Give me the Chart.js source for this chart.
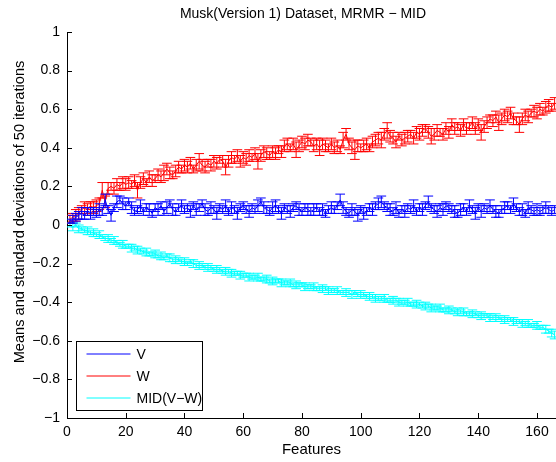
<!DOCTYPE html>
<html>
<head>
<meta charset="utf-8">
<script src="https://cdn.jsdelivr.net/npm/chart.js@4.4.0/dist/chart.umd.min.js"></script>
<style>
  body { margin: 0; background: #fff; }
  canvas { display: block; }
</style>
</head>
<body>
<canvas id="errChart" width="556" height="462"></canvas>
<script>
// tick labels
const xTicks = [0, 20, 40, 60, 80, 100, 120, 140, 160];
const yTicks = [-1, -0.8, -0.6, -0.4, -0.2, 0, 0.2, 0.4, 0.6, 0.8, 1];

// features 1..166
const features = [];
for (let i = 1; i <= 166; i++) features.push(i);

// V means
const vMean = [
  0.02,0.03,0.04,0.05,0.06,0.05,0.07,0.06,0.07,0.06,
  0.08,0.07,0.13,0.08,0.05,0.09,0.12,0.13,0.11,0.10,
  0.12,0.09,0.07,0.08,0.10,0.07,0.09,0.08,0.06,0.09,
  0.08,0.10,0.07,0.09,0.11,0.08,0.07,0.09,0.10,0.08,
  0.09,0.07,0.10,0.08,0.09,0.11,0.08,0.07,0.09,0.08,
  0.06,0.09,0.08,0.10,0.07,0.09,0.08,0.06,0.09,0.10,
  0.08,0.07,0.09,0.08,0.10,0.12,0.09,0.08,0.07,0.09,
  0.10,0.08,0.06,0.09,0.08,0.07,0.09,0.10,0.08,0.07,
  0.09,0.08,0.07,0.08,0.09,0.07,0.08,0.06,0.08,0.09,
  0.08,0.10,0.13,0.09,0.07,0.06,0.08,0.07,0.05,0.08,
  0.06,0.07,0.09,0.08,0.10,0.11,0.12,0.10,0.09,0.08,
  0.07,0.09,0.06,0.08,0.07,0.09,0.08,0.10,0.07,0.09,
  0.08,0.10,0.12,0.09,0.08,0.07,0.09,0.08,0.10,0.09,
  0.08,0.07,0.06,0.08,0.09,0.07,0.10,0.08,0.06,0.09,
  0.07,0.09,0.08,0.10,0.08,0.07,0.06,0.08,0.09,0.10,
  0.08,0.11,0.09,0.07,0.08,0.06,0.09,0.08,0.07,0.08,
  0.07,0.08,0.09,0.08,0.07,0.08
];
const vErr = [
  0.01,0.02,0.02,0.02,0.03,0.02,0.02,0.03,0.02,0.02,
  0.03,0.02,0.03,0.02,0.03,0.02,0.03,0.02,0.03,0.02,
  0.02,0.03,0.02,0.02,0.03,0.02,0.02,0.03,0.02,0.02,
  0.03,0.02,0.02,0.03,0.02,0.03,0.02,0.02,0.03,0.02,
  0.02,0.03,0.02,0.03,0.02,0.02,0.03,0.02,0.03,0.02,
  0.03,0.02,0.02,0.03,0.02,0.03,0.02,0.03,0.02,0.02,
  0.02,0.03,0.02,0.02,0.03,0.02,0.03,0.02,0.02,0.03,
  0.03,0.02,0.03,0.02,0.02,0.03,0.02,0.02,0.03,0.02,
  0.02,0.03,0.02,0.03,0.02,0.02,0.03,0.02,0.02,0.03,
  0.02,0.02,0.03,0.03,0.02,0.02,0.03,0.02,0.03,0.02,
  0.03,0.02,0.02,0.03,0.02,0.03,0.03,0.02,0.02,0.03,
  0.02,0.03,0.02,0.02,0.03,0.02,0.02,0.03,0.02,0.02,
  0.03,0.02,0.03,0.02,0.02,0.03,0.02,0.03,0.02,0.02,
  0.02,0.03,0.02,0.03,0.02,0.02,0.03,0.02,0.03,0.02,
  0.03,0.02,0.02,0.03,0.02,0.03,0.02,0.02,0.03,0.02,
  0.02,0.03,0.02,0.02,0.03,0.02,0.03,0.02,0.02,0.03,
  0.02,0.02,0.03,0.02,0.02,0.02
];

// W means
const wMean = [
  0.03,0.04,0.05,0.06,0.08,0.09,0.08,0.10,0.09,0.10,
  0.11,0.18,0.12,0.19,0.20,0.19,0.21,0.20,0.22,0.21,
  0.22,0.21,0.23,0.18,0.22,0.24,0.22,0.25,0.23,0.24,
  0.26,0.25,0.27,0.29,0.27,0.26,0.28,0.30,0.29,0.31,
  0.30,0.32,0.29,0.31,0.33,0.31,0.30,0.32,0.31,0.33,
  0.32,0.34,0.33,0.30,0.33,0.35,0.34,0.36,0.33,0.35,
  0.34,0.36,0.35,0.37,0.33,0.36,0.38,0.37,0.36,0.38,
  0.37,0.39,0.38,0.41,0.42,0.40,0.42,0.39,0.41,0.43,
  0.42,0.44,0.43,0.41,0.42,0.40,0.42,0.41,0.40,0.42,
  0.40,0.41,0.39,0.44,0.47,0.42,0.40,0.39,0.41,0.40,
  0.41,0.42,0.40,0.43,0.44,0.45,0.44,0.47,0.49,0.46,
  0.45,0.43,0.46,0.44,0.45,0.46,0.47,0.45,0.48,0.47,
  0.49,0.50,0.48,0.46,0.47,0.49,0.48,0.47,0.50,0.48,
  0.52,0.50,0.51,0.49,0.52,0.50,0.51,0.53,0.50,0.52,
  0.48,0.51,0.53,0.55,0.54,0.56,0.53,0.55,0.57,0.56,
  0.58,0.55,0.54,0.52,0.55,0.57,0.56,0.58,0.59,0.58,
  0.60,0.59,0.61,0.62,0.61,0.63
];
const wErr = [
  0.02,0.02,0.03,0.03,0.02,0.03,0.03,0.02,0.03,0.03,
  0.03,0.04,0.03,0.03,0.02,0.03,0.03,0.02,0.03,0.03,
  0.03,0.02,0.03,0.04,0.03,0.03,0.02,0.03,0.03,0.02,
  0.03,0.03,0.04,0.03,0.03,0.02,0.03,0.03,0.02,0.03,
  0.03,0.03,0.02,0.03,0.04,0.03,0.03,0.02,0.03,0.03,
  0.03,0.02,0.03,0.04,0.03,0.03,0.02,0.03,0.03,0.03,
  0.03,0.03,0.02,0.03,0.04,0.03,0.03,0.03,0.02,0.03,
  0.03,0.02,0.03,0.03,0.03,0.02,0.03,0.04,0.03,0.03,
  0.03,0.03,0.02,0.03,0.03,0.04,0.03,0.03,0.02,0.03,
  0.03,0.03,0.02,0.04,0.03,0.03,0.03,0.05,0.03,0.02,
  0.03,0.03,0.02,0.03,0.03,0.03,0.04,0.03,0.04,0.03,
  0.03,0.03,0.02,0.03,0.03,0.03,0.02,0.03,0.03,0.03,
  0.03,0.02,0.03,0.04,0.03,0.03,0.02,0.03,0.03,0.03,
  0.03,0.03,0.02,0.03,0.03,0.03,0.02,0.03,0.03,0.03,
  0.04,0.03,0.03,0.02,0.03,0.03,0.04,0.03,0.03,0.03,
  0.03,0.03,0.02,0.04,0.03,0.03,0.03,0.02,0.03,0.03,
  0.03,0.02,0.03,0.03,0.02,0.03
];

// MID(V-W) means
const midMean = [
  0.00,-0.01,0.00,-0.02,-0.02,-0.03,-0.03,-0.04,-0.04,-0.05,
  -0.05,-0.06,-0.07,-0.07,-0.08,-0.08,-0.09,-0.10,-0.10,-0.11,
  -0.11,-0.12,-0.12,-0.13,-0.13,-0.14,-0.14,-0.15,-0.15,-0.15,
  -0.16,-0.16,-0.17,-0.16,-0.17,-0.18,-0.18,-0.18,-0.19,-0.19,
  -0.20,-0.19,-0.20,-0.21,-0.21,-0.21,-0.22,-0.22,-0.22,-0.23,
  -0.23,-0.23,-0.24,-0.24,-0.24,-0.25,-0.25,-0.25,-0.26,-0.26,
  -0.26,-0.27,-0.27,-0.27,-0.27,-0.28,-0.28,-0.28,-0.29,-0.29,
  -0.29,-0.29,-0.30,-0.30,-0.30,-0.30,-0.31,-0.31,-0.31,-0.31,
  -0.32,-0.32,-0.32,-0.32,-0.33,-0.33,-0.33,-0.33,-0.34,-0.34,
  -0.34,-0.34,-0.35,-0.35,-0.35,-0.35,-0.36,-0.35,-0.36,-0.36,
  -0.36,-0.37,-0.37,-0.37,-0.38,-0.38,-0.38,-0.38,-0.39,-0.39,
  -0.39,-0.39,-0.40,-0.40,-0.40,-0.40,-0.41,-0.41,-0.41,-0.41,
  -0.42,-0.42,-0.42,-0.43,-0.43,-0.43,-0.43,-0.44,-0.44,-0.44,
  -0.44,-0.45,-0.45,-0.45,-0.45,-0.46,-0.46,-0.46,-0.46,-0.47,
  -0.47,-0.47,-0.47,-0.48,-0.48,-0.48,-0.48,-0.49,-0.49,-0.49,
  -0.49,-0.50,-0.50,-0.50,-0.51,-0.51,-0.51,-0.52,-0.52,-0.52,
  -0.53,-0.53,-0.54,-0.55,-0.56,-0.57
];
const midErr = [
  0.01,0.02,0.01,0.02,0.01,0.01,0.02,0.01,0.02,0.01,
  0.02,0.01,0.01,0.02,0.01,0.02,0.01,0.01,0.02,0.01,
  0.01,0.02,0.01,0.02,0.01,0.01,0.02,0.01,0.01,0.02,
  0.01,0.02,0.01,0.01,0.02,0.01,0.02,0.01,0.01,0.02,
  0.01,0.01,0.02,0.01,0.02,0.01,0.01,0.02,0.01,0.01,
  0.02,0.01,0.01,0.02,0.01,0.02,0.01,0.01,0.02,0.01,
  0.01,0.02,0.01,0.01,0.02,0.01,0.01,0.02,0.01,0.02,
  0.01,0.01,0.02,0.01,0.01,0.02,0.01,0.02,0.01,0.01,
  0.02,0.01,0.01,0.02,0.01,0.01,0.02,0.01,0.02,0.01,
  0.01,0.02,0.01,0.01,0.02,0.01,0.02,0.01,0.01,0.02,
  0.01,0.01,0.02,0.01,0.02,0.01,0.01,0.02,0.01,0.01,
  0.02,0.01,0.02,0.01,0.01,0.02,0.01,0.01,0.02,0.01,
  0.01,0.02,0.01,0.02,0.01,0.01,0.02,0.01,0.01,0.02,
  0.01,0.01,0.02,0.01,0.02,0.01,0.01,0.02,0.01,0.01,
  0.02,0.01,0.01,0.02,0.01,0.02,0.01,0.01,0.02,0.01,
  0.01,0.02,0.01,0.01,0.02,0.01,0.02,0.01,0.01,0.02,
  0.01,0.01,0.02,0.01,0.02,0.02
];

const FONT = '"Liberation Sans", Arial, Helvetica, sans-serif';
Chart.defaults.font.family = FONT;
Chart.defaults.font.size = 14;
Chart.defaults.color = '#000';

function toPts(ys) {
  return ys.map((y, i) => ({ x: features[i], y: y }));
}

// draws the error bars right after each series, like matlab errorbar
const errorBars = {
  id: 'errorBars',
  afterDatasetDraw(chart, args) {
    const ds = chart.data.datasets[args.index];
    const xs = chart.scales.x, ys = chart.scales.y;
    const ctx = chart.ctx;
    const area = chart.chartArea;
    ctx.save();
    ctx.beginPath();
    ctx.rect(area.left, area.top, area.right - area.left, area.bottom - area.top);
    ctx.clip();
    ctx.strokeStyle = ds.borderColor;
    ctx.lineWidth = 1;
    ctx.beginPath();
    ds.data.forEach((p, i) => {
      const e = ds.errors[i];
      const x = xs.getPixelForValue(p.x);
      const half = xs.getPixelForValue(p.x + 1.65) - x;
      const yt = ys.getPixelForValue(p.y + e);
      const yb = ys.getPixelForValue(p.y - e);
      ctx.moveTo(x, yt); ctx.lineTo(x, yb);
      ctx.moveTo(x - half, yt); ctx.lineTo(x + half, yt);
      ctx.moveTo(x - half, yb); ctx.lineTo(x + half, yb);
    });
    ctx.stroke();
    ctx.restore();
  }
};

// title, y label, inward ticks and the boxed legend
const matlabLook = {
  id: 'matlabLook',
  afterDraw(chart) {
    const ctx = chart.ctx;
    const a = chart.chartArea;
    const xs = chart.scales.x, ys = chart.scales.y;
    ctx.save();
    ctx.strokeStyle = '#000';
    ctx.lineWidth = 1;
    ctx.beginPath();
    xTicks.forEach(v => {
      const x = Math.round(xs.getPixelForValue(v)) + 0.5;
      ctx.moveTo(x, a.bottom); ctx.lineTo(x, a.bottom - 5);
    });
    yTicks.forEach(v => {
      const y = Math.round(ys.getPixelForValue(v)) + 0.5;
      ctx.moveTo(a.left, y); ctx.lineTo(a.left + 5, y);
    });
    ctx.stroke();

    ctx.fillStyle = '#000';
    ctx.font = '14px ' + FONT;
    ctx.textAlign = 'center';
    ctx.textBaseline = 'middle';
    ctx.fillText('Musk(Version 1) Dataset, MRMR \u2212 MID', 303, 14);

    ctx.save();
    ctx.translate(20, 212);
    ctx.rotate(-Math.PI / 2);
    ctx.font = '14.6px ' + FONT;
    ctx.fillText('Means and standard deviations of 50 iterations', 0, 0);
    ctx.restore();

    // legend box
    const lx = a.left + 9.5, ly = a.bottom - 76.5, lw = 126, lh = 69;
    ctx.fillStyle = '#fff';
    ctx.fillRect(lx, ly, lw, lh);
    ctx.strokeRect(lx, ly, lw, lh);
    ctx.textAlign = 'left';
    chart.data.datasets.forEach((ds, i) => {
      const y = ly + 12.5 + i * 22;
      ctx.strokeStyle = ds.borderColor;
      ctx.beginPath();
      ctx.moveTo(lx + 10, y); ctx.lineTo(lx + 54, y);
      ctx.stroke();
      ctx.fillStyle = '#000';
      ctx.fillText(ds.label, lx + 60, y + 1);
    });
    ctx.restore();
  }
};

new Chart(document.getElementById('errChart'), {
  type: 'line',
  data: {
    datasets: [
      { label: 'V', data: toPts(vMean), errors: vErr, borderColor: '#0000ff' },
      { label: 'W', data: toPts(wMean), errors: wErr, borderColor: '#ff0000' },
      { label: 'MID(V\u2212W)', data: toPts(midMean), errors: midErr, borderColor: '#00ffff' }
    ]
  },
  options: {
    responsive: false,
    animation: false,
    events: [],
    datasets: { line: { borderWidth: 1, pointRadius: 0, tension: 0, fill: false } },
    layout: { padding: { top: 32, right: 0, bottom: 0, left: 0 } },
    plugins: { legend: { display: false }, tooltip: { enabled: false } },
    scales: {
      x: {
        type: 'linear',
        min: 0,
        max: 166.47,
        grid: { display: false, drawTicks: false },
        border: { display: true, color: '#000', width: 1 },
        ticks: { padding: 6, maxRotation: 0 },
        afterBuildTicks: s => { s.ticks = xTicks.map(v => ({ value: v })); },
        afterFit: s => { s.height = 44; },
        title: { display: true, text: 'Features', font: { size: 15 }, padding: { top: 0, bottom: 3 } }
      },
      y: {
        type: 'linear',
        min: -1,
        max: 1,
        grid: { display: false, drawTicks: false },
        border: { display: true, color: '#000', width: 1 },
        ticks: {
          padding: 7,
          callback: v => String(Math.round(v * 10) / 10).replace('-', '\u2212')
        },
        afterBuildTicks: s => { s.ticks = yTicks.map(v => ({ value: v })); },
        afterFit: s => { s.width = 67; }
      }
    }
  },
  plugins: [errorBars, matlabLook]
});
</script>
</body>
</html>
